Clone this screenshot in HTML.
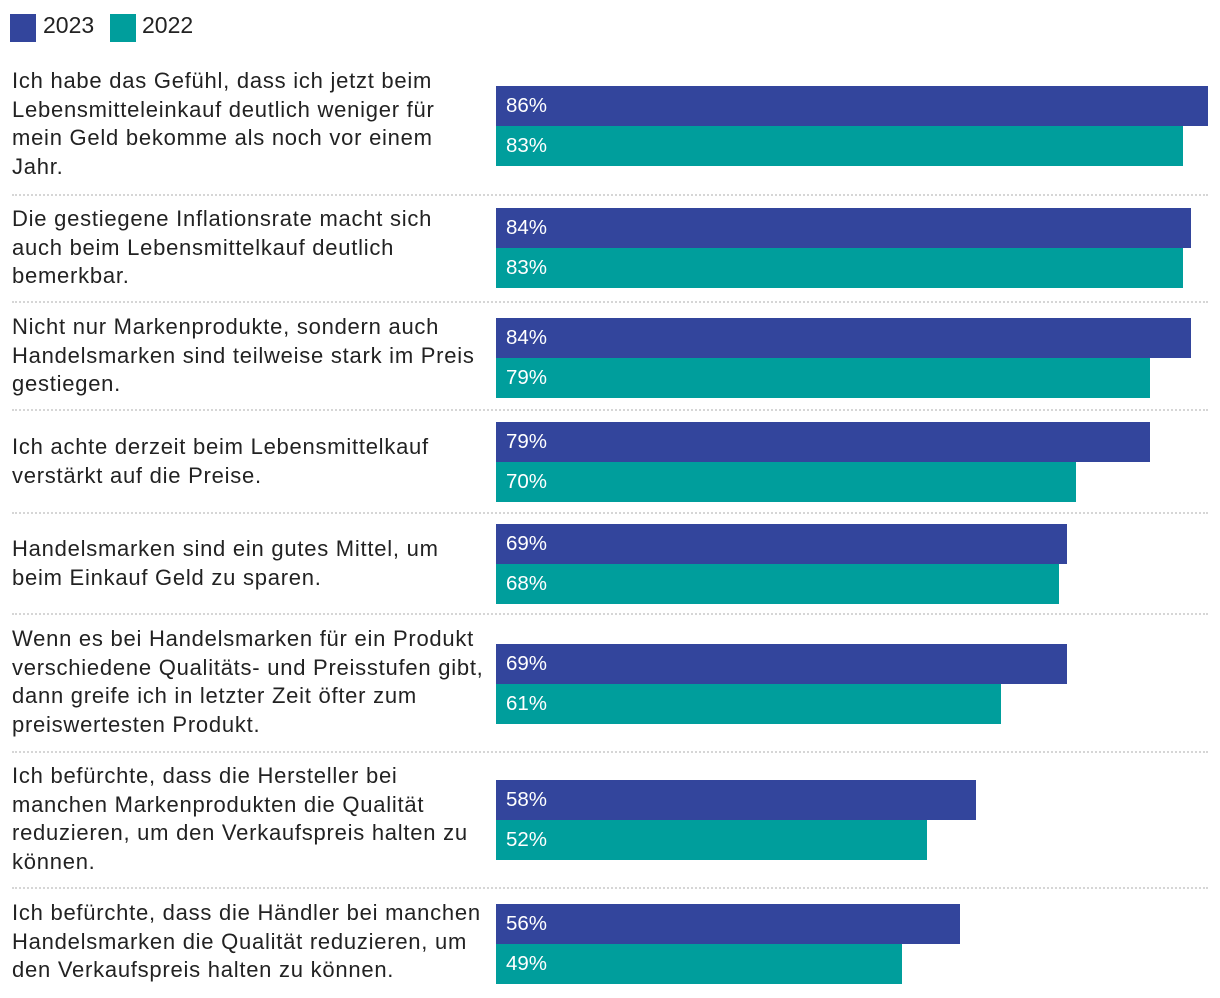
<!DOCTYPE html>
<html><head><meta charset="utf-8">
<style>
body{margin:0;width:1220px;height:998px;background:#fff;position:relative;overflow:hidden;font-family:"Liberation Sans",sans-serif;color:#222}
.abs{position:absolute}
.lab{position:absolute;left:12px;width:484px;font-size:22px;letter-spacing:0.75px;line-height:28.6px;color:#222;white-space:nowrap}
.bar{position:absolute;height:40px}
.val{position:absolute;font-size:20.5px;color:#fff;line-height:40px}
.sep{position:absolute;left:12px;width:1196px;border-top:2px dotted #d6d6d6;height:0}
</style></head><body>
<div class="abs" style="left:0;top:0;width:300px;height:50px">
<div class="abs" style="left:10px;top:14px;width:26px;height:28px;background:#33459c"></div>
<div class="abs" style="left:43px;top:12px;font-size:23px">2023</div>
<div class="abs" style="left:110px;top:14px;width:26px;height:28px;background:#009e9c"></div>
<div class="abs" style="left:142px;top:12px;font-size:23px">2022</div>
</div>
<div id="chart"></div>
<script>
const categories=["Ich habe das Gefühl, dass ich jetzt beim<br>Lebensmitteleinkauf deutlich weniger für<br>mein Geld bekomme als noch vor einem<br>Jahr.",
"Die gestiegene Inflationsrate macht sich<br>auch beim Lebensmittelkauf deutlich<br>bemerkbar.",
"Nicht nur Markenprodukte, sondern auch<br>Handelsmarken sind teilweise stark im Preis<br>gestiegen.",
"Ich achte derzeit beim Lebensmittelkauf<br>verstärkt auf die Preise.",
"Handelsmarken sind ein gutes Mittel, um<br>beim Einkauf Geld zu sparen.",
"Wenn es bei Handelsmarken für ein Produkt<br>verschiedene Qualitäts- und Preisstufen gibt,<br>dann greife ich in letzter Zeit öfter zum<br>preiswertesten Produkt.",
"Ich befürchte, dass die Hersteller bei<br>manchen Markenprodukten die Qualität<br>reduzieren, um den Verkaufspreis halten zu<br>können.",
"Ich befürchte, dass die Händler bei manchen<br>Handelsmarken die Qualität reduzieren, um<br>den Verkaufspreis halten zu können."];
const values2023=[86,84,84,79,69,69,58,56];
const values2022=[83,83,79,70,68,61,52,49];
const barTops=[86,208,318,422,524,644,780,904];
const labelTops=[67,205,313,433,535,625,762,899];
const sepTops=[194,301,409,512,613,751,887];
const x0=496, pxPer=712/86;
const xs=v=>v*pxPer;
const c=document.getElementById('chart');
function add(cls,style,html){const d=document.createElement('div');d.className=cls;d.style.cssText=style;if(html)d.innerHTML=html;c.appendChild(d);return d;}
categories.forEach((t,i)=>{
 const l=add('lab','top:'+labelTops[i]+'px',t);
 
 
 [[values2023,'#33459c',0],[values2022,'#009e9c',40]].forEach(([arr,col,off])=>{
  const b=add('bar','left:'+x0+'px;top:'+(barTops[i]+off)+'px;width:'+xs(arr[i])+'px;background:'+col);
  
  
  const v=add('val','left:'+(x0+10)+'px;top:'+(barTops[i]+off)+'px',arr[i]+'%');
  
  
 });
});
sepTops.forEach(y=>{
 const s=add('sep','top:'+y+'px');
 
 
});
</script>
</body></html>
